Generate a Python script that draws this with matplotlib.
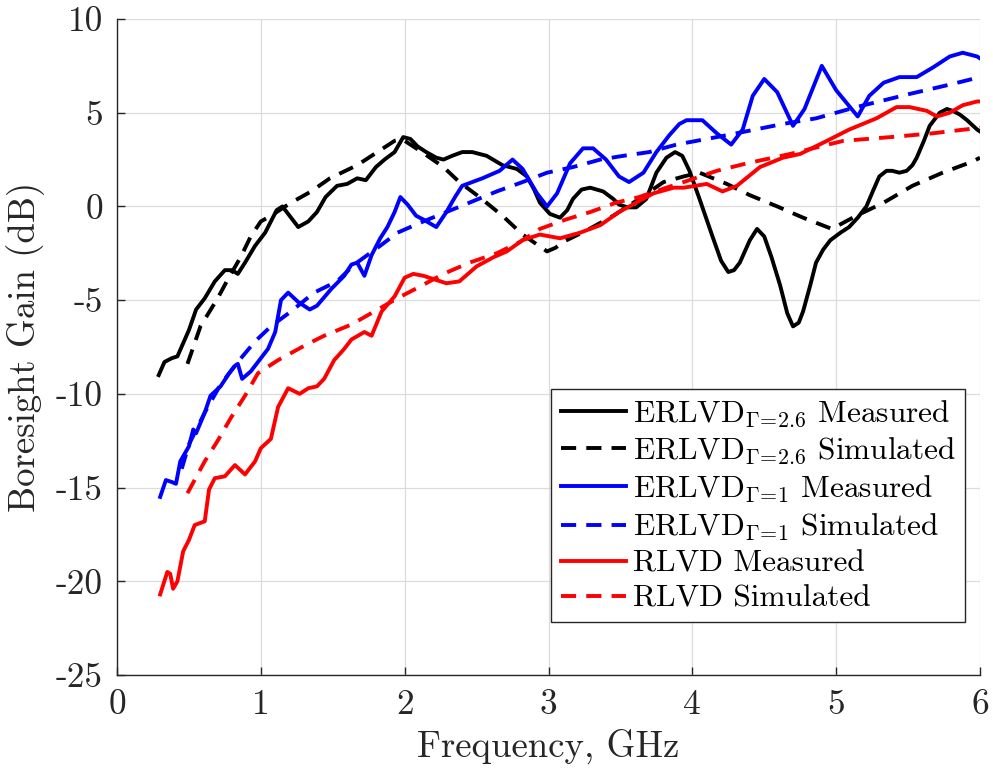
import matplotlib
matplotlib.use("Agg")
import matplotlib.pyplot as plt

plt.rcParams['font.family'] = ['cmr10', 'DejaVu Serif']
plt.rcParams['mathtext.fontset'] = 'cm'
plt.rcParams['axes.unicode_minus'] = False

# ---- data ----
bm_f = [0.29,0.33,0.38,0.42,0.46,0.50,0.55,0.61,0.68,0.75,0.80,0.84,0.89,0.96,1.03,1.07,1.11,1.15,1.20,1.26,1.33,1.39,1.45,1.53,1.60,1.67,1.73,1.80,1.86,1.93,1.99,2.04,2.09,2.15,2.22,2.27,2.33,2.40,2.47,2.57,2.68,2.78,2.85,2.90,2.94,3.01,3.08,3.13,3.17,3.23,3.29,3.38,3.45,3.49,3.55,3.61,3.68,3.75,3.82,3.88,3.93,3.98,4.05,4.14,4.20,4.25,4.29,4.33,4.40,4.45,4.50,4.55,4.61,4.66,4.70,4.74,4.77,4.82,4.86,4.91,4.96,5.03,5.09,5.15,5.21,5.26,5.30,5.35,5.39,5.44,5.49,5.53,5.56,5.61,5.65,5.72,5.77,5.81,5.86,5.91,5.98,6.00]
bm_g = [-9.0,-8.3,-8.1,-8.0,-7.3,-6.6,-5.5,-4.9,-4.0,-3.4,-3.4,-3.6,-3.0,-2.1,-1.4,-0.8,-0.2,0.0,-0.5,-1.1,-0.8,-0.3,0.5,1.1,1.2,1.5,1.4,2.1,2.5,2.9,3.7,3.6,3.2,2.9,2.6,2.5,2.7,2.9,2.9,2.7,2.2,2.0,1.6,0.9,0.2,-0.4,-0.6,-0.2,0.4,0.9,1.0,0.8,0.4,0.1,-0.05,-0.05,0.4,1.8,2.6,2.9,2.7,1.9,0.4,-1.6,-2.9,-3.5,-3.4,-3.0,-1.8,-1.2,-1.6,-2.7,-4.2,-5.7,-6.4,-6.2,-5.6,-4.2,-3.0,-2.3,-1.8,-1.4,-1.1,-0.6,0.0,0.9,1.6,1.9,1.9,1.8,1.9,2.2,2.6,3.5,4.3,5.0,5.2,5.1,4.9,4.6,4.1,4.0]

bs_f = [0.49,0.58,0.70,0.77,0.86,0.93,1.00,1.07,1.21,1.35,1.48,1.67,1.83,1.93,1.98,2.12,2.27,2.38,2.52,2.68,2.82,2.99,3.05,3.10,3.26,3.45,3.63,3.80,3.94,4.05,4.24,4.40,4.59,4.77,4.97,5.14,5.33,5.53,5.74,5.95,6.00]
bs_g = [-8.4,-6.4,-4.9,-3.9,-2.7,-1.6,-0.8,-0.5,0.2,0.8,1.5,2.2,3.0,3.5,3.6,2.9,2.1,1.3,0.5,-0.5,-1.5,-2.4,-2.2,-1.9,-1.3,-0.5,0.4,1.3,1.6,1.8,1.2,0.6,0.0,-0.6,-1.2,-0.5,0.2,1.1,1.8,2.4,2.6]

um_f = [0.30,0.34,0.38,0.41,0.44,0.50,0.53,0.55,0.61,0.65,0.72,0.78,0.82,0.84,0.87,0.93,1.00,1.05,1.10,1.14,1.19,1.26,1.34,1.39,1.49,1.58,1.63,1.67,1.72,1.77,1.83,1.88,1.93,1.97,2.02,2.08,2.13,2.22,2.29,2.35,2.40,2.54,2.66,2.75,2.82,2.92,2.99,3.06,3.15,3.24,3.31,3.40,3.49,3.56,3.66,3.75,3.84,3.91,3.96,4.07,4.17,4.27,4.35,4.42,4.50,4.59,4.70,4.78,4.90,5.00,5.15,5.23,5.33,5.44,5.56,5.67,5.79,5.88,5.98,6.00]
um_g = [-15.5,-14.6,-14.7,-14.8,-13.6,-12.8,-11.9,-12.1,-11.0,-10.1,-9.6,-8.9,-8.5,-8.4,-9.2,-8.8,-8.1,-7.6,-6.7,-5.0,-4.6,-5.1,-5.5,-5.3,-4.4,-3.7,-3.1,-3.0,-3.7,-2.6,-1.7,-1.1,-0.3,0.5,0.1,-0.5,-0.7,-1.1,-0.3,0.5,1.1,1.5,1.9,2.5,2.0,0.7,0.0,0.7,2.3,3.1,3.1,2.5,1.6,1.3,1.8,2.9,3.8,4.4,4.6,4.6,3.9,3.3,4.1,5.9,6.8,6.1,4.3,5.2,7.5,6.2,4.8,5.9,6.6,6.9,6.9,7.4,8.0,8.2,8.0,7.9]

us_f = [0.45,0.50,0.61,0.72,0.84,0.96,1.07,1.21,1.37,1.53,1.65,1.83,1.95,2.13,2.29,2.45,2.64,2.82,2.99,3.17,3.36,3.52,3.70,3.89,4.24,4.63,4.86,5.14,5.51,5.79,6.00]
us_g = [-14.0,-12.7,-11.0,-9.5,-8.3,-7.2,-6.4,-5.6,-4.6,-4.0,-3.1,-2.1,-1.4,-0.8,-0.3,0.2,0.8,1.3,1.8,2.1,2.5,2.7,2.9,3.3,3.8,4.4,4.7,5.3,6.0,6.5,6.9]

rm_f = [0.30,0.35,0.37,0.39,0.42,0.46,0.50,0.54,0.61,0.64,0.68,0.75,0.82,0.89,0.96,1.00,1.07,1.12,1.19,1.27,1.33,1.39,1.44,1.51,1.58,1.63,1.72,1.77,1.84,1.93,2.00,2.06,2.13,2.29,2.38,2.50,2.62,2.71,2.82,2.94,3.08,3.22,3.36,3.49,3.61,3.73,3.87,3.94,4.10,4.21,4.31,4.47,4.63,4.75,4.91,5.09,5.28,5.42,5.51,5.63,5.70,5.79,5.88,5.98,6.00]
rm_g = [-20.7,-19.5,-19.6,-20.4,-20.0,-18.4,-17.8,-17.0,-16.8,-15.1,-14.5,-14.4,-13.8,-14.3,-13.6,-12.9,-12.4,-10.7,-9.7,-10.0,-9.7,-9.6,-9.2,-8.2,-7.6,-7.1,-6.7,-6.9,-5.6,-4.8,-3.8,-3.6,-3.7,-4.1,-4.0,-3.2,-2.7,-2.4,-1.8,-1.5,-1.7,-1.4,-1.0,-0.3,0.2,0.7,1.0,1.0,1.2,0.8,1.1,2.1,2.6,2.8,3.4,4.1,4.7,5.3,5.3,5.1,4.8,5.0,5.4,5.6,5.6]

rs_f = [0.49,0.61,0.70,0.79,0.89,0.98,1.12,1.31,1.44,1.63,1.79,1.95,2.10,2.27,2.45,2.64,2.80,2.94,3.12,3.29,3.47,3.63,3.82,3.94,4.17,4.38,4.68,5.05,5.38,5.67,6.00]
rs_g = [-15.3,-13.6,-12.5,-11.3,-10.1,-8.9,-8.2,-7.4,-6.9,-6.3,-5.6,-4.9,-4.3,-3.6,-3.0,-2.5,-1.9,-1.2,-0.7,-0.3,0.2,0.5,1.0,1.3,1.9,2.3,2.8,3.5,3.7,3.9,4.2]

labels = [r'ERLVD$_{\Gamma\!=\!2.6}$ Measured', r'ERLVD$_{\Gamma\!=\!2.6}$ Simulated',
          r'ERLVD$_{\Gamma\!=\!1}$ Measured', r'ERLVD$_{\Gamma\!=\!1}$ Simulated',
          'RLVD Measured', 'RLVD Simulated']
xticks = [0, 1, 2, 3, 4, 5, 6]
yticks = [-25, -20, -15, -10, -5, 0, 5, 10]

# ---- figure ----
W, H = 993, 777
fig = plt.figure(figsize=(W/100, H/100), dpi=100)
ax = fig.add_axes([117/W, (H-675)/H, 863/W, 656/H])

lw = 2.8
dash = (3.9, 2.6)
ax.plot(bm_f, bm_g, color='black', lw=lw, label=labels[0])
ax.plot(bs_f, bs_g, color='black', lw=lw, ls=(0, dash), label=labels[1])
ax.plot(um_f, um_g, color='blue', lw=lw, label=labels[2])
ax.plot(us_f, us_g, color='blue', lw=lw, ls=(0, dash), label=labels[3])
ax.plot(rm_f, rm_g, color='red', lw=lw, label=labels[4])
ax.plot(rs_f, rs_g, color='red', lw=lw, ls=(0, dash), label=labels[5])

ax.set_xlim(0, 6)
ax.set_ylim(-25, 10)
ax.set_xticks(xticks)
ax.set_xticklabels([str(t) for t in xticks])
ax.set_yticks(yticks)
ax.set_yticklabels([str(t) for t in yticks])
ax.grid(True, color='#dcdcdc', lw=0.9)
ax.set_axisbelow(True)
for s in ['top', 'right']:
    ax.spines[s].set_visible(False)
for s in ['left', 'bottom']:
    ax.spines[s].set_color('#262626')
    ax.spines[s].set_linewidth(1.0)
ax.tick_params(direction='in', length=6, width=1.0, color='#262626',
               labelsize=25.5, labelcolor='#262626', pad=10)

ax.set_xlabel('Frequency, GHz', fontsize=26.5, color='#262626', labelpad=6)
ax.set_ylabel('Boresight Gain (dB)', fontsize=26.5, color='#262626', labelpad=8)

leg = ax.legend(loc='lower right', bbox_to_anchor=(0.9826, 0.081), fontsize=22.5,
                frameon=True, fancybox=False, framealpha=1, edgecolor='#262626',
                handlelength=2.1, handletextpad=0.2, labelspacing=0.22,
                borderpad=0.3, borderaxespad=0)
leg.get_frame().set_linewidth(1.0)

fig.savefig('out.png', dpi=100)
